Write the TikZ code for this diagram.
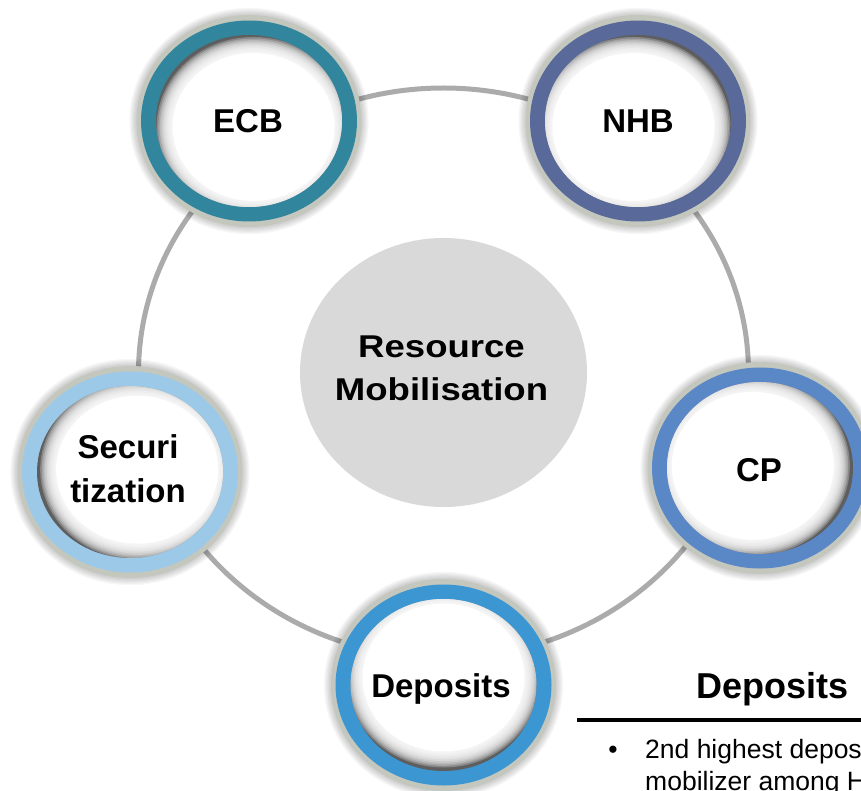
\documentclass[tikz,border=0pt]{standalone}
\usepackage{fontspec}
\setmainfont{Liberation Sans}
\usepackage{graphicx}
\definecolor{ringline}{HTML}{ABABAB}
\definecolor{centergray}{HTML}{D9D9D9}
\definecolor{rimgray}{HTML}{C4C7BD}
\definecolor{shadowgray}{HTML}{5E5E5E}
\definecolor{cECB}{HTML}{31859C}
\definecolor{cNHB}{HTML}{58699A}
\definecolor{cCP}{HTML}{5A87C6}
\definecolor{cDEP}{HTML}{3B96D2}
\definecolor{cSEC}{HTML}{9DC9E8}
\newcommand\drawring[5]{%
 \begin{scope}[shift={(#1,#2)}]
   \foreach \k in {1,...,6}
     \fill[black,opacity=0.03] (0,0) ellipse [x radius=112.5+\k*1.2, y radius=106+\k*1.2];
   \fill[rimgray] (0,0) ellipse [x radius=112.5, y radius=106];
   \fill[#5] (0,0) ellipse [x radius=108, y radius=100.5];
   \begin{scope}
     \clip (0,0) ellipse [x radius=93, y radius=86];
     \fill[shadowgray] (-100,-100) rectangle (100,100);
     \fill[white] ({-#3*7.5},{-#4*7.5}) ellipse [x radius=81, y radius=74];
     \foreach \k in {1,...,10}
       \fill[white,opacity=0.25] ({-#3*7.5},{-#4*7.5}) ellipse [x radius=81+\k*1.6, y radius=74+\k*1.6];
   \end{scope}
 \end{scope}}
\begin{document}
\begin{tikzpicture}[x=1pt,y=-1pt,
  lbl/.style={font=\fontsize{33}{40}\selectfont\bfseries, inner sep=0pt, anchor=base},
  ctr/.style={font=\fontsize{31.5}{40}\selectfont\bfseries, inner sep=0pt, anchor=base},
  body/.style={font=\fontsize{26.5}{32}\selectfont, inner sep=0pt, anchor=base west}]
\useasboundingbox (0,0) rectangle (861,791);
\clip (0,0) rectangle (861,791);
\fill[white] (0,0) rectangle (861,791);
% connecting ring
\draw[ringline, line width=5pt] (443.5,373) ellipse [x radius=305, y radius=285];
% centre
\fill[centergray] (443.5,372.5) ellipse [x radius=143.5, y radius=134.5];
\node[ctr] (res1) at (441.5,357) {\scalebox{1.16}[1]{Resource}};
\node[ctr] (res2) at (441.5,400) {\scalebox{1.16}[1]{Mobilisation}};
% rings
\drawring{249}{121}{-0.611}{-0.792}{cECB}
\drawring{638}{121}{0.611}{-0.792}{cNHB}
\drawring{760}{468}{0.958}{0.288}{cCP}
\drawring{130}{472}{-0.953}{0.301}{cSEC}
\drawring{443.5}{685}{0}{1}{cDEP}
% labels
\node[lbl] (ecb) at (248,133) {ECB};
\node[lbl] (nhb) at (638,133) {NHB};
\node[lbl] (cp) at (759,481) {CP};
\node[lbl] (sec1) at (128,458) {Securi};
\node[lbl] (sec2) at (128,502) {tization};
\node[lbl] (dep) at (441,697) {Deposits};
% side panel
\node[font=\fontsize{36}{42}\selectfont\bfseries, inner sep=0pt, anchor=base] (head) at (772.5,698) {Deposits};
\coordinate (hl) at (577,720);
\coordinate (hr) at (870,720);
\draw[line width=4pt] (hl) -- (hr);
\node[font=\fontsize{26.5}{32}\selectfont, inner sep=0pt, anchor=base] (bul) at (613,758) {•};
\node[body] (b1) at (645,758) {2nd highest deposit};
\node[body] (b2) at (645,790) {mobilizer among HFCs};
\end{tikzpicture}
\end{document}
